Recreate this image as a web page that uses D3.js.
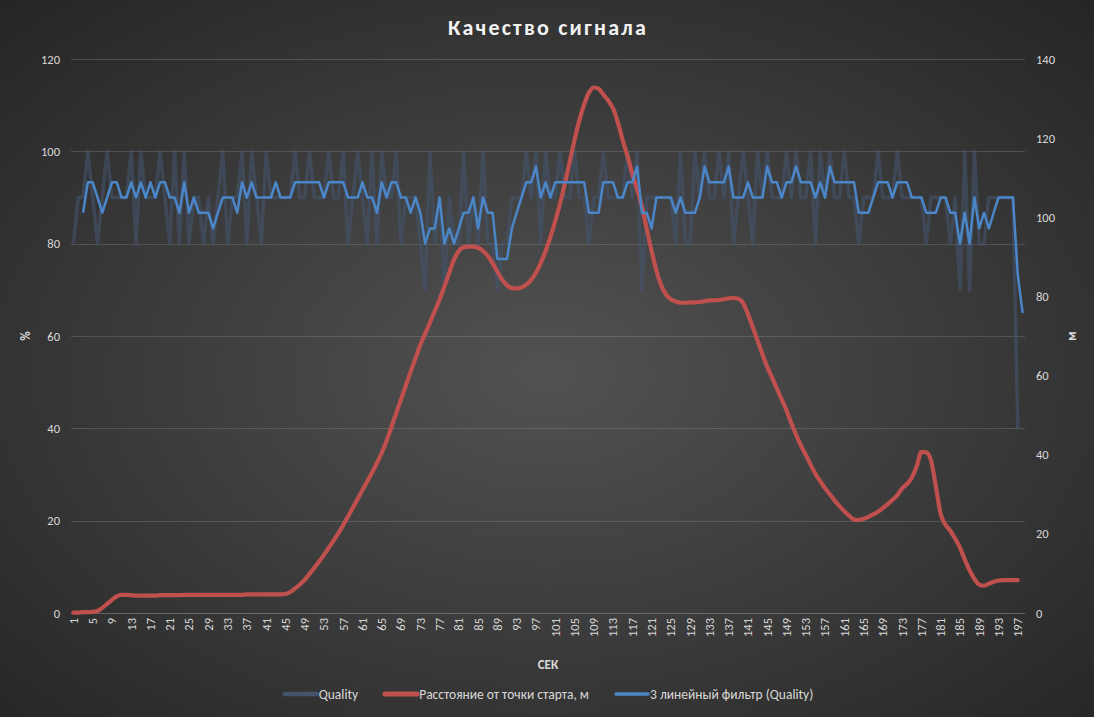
<!DOCTYPE html>
<html><head><meta charset="utf-8">
<script src="https://cdn.jsdelivr.net/npm/d3@7"></script>
<style>
body{margin:0;background:#2a2a2a;}
svg{display:block;}
text{font-family:Carlito, Lato, 'Noto Sans', sans-serif;}
</style>
</head><body>
<svg id="chart" width="1094" height="717"></svg>
<script>
// ---------------- data ----------------
const categories = d3.range(1, 199); // seconds 1..198
const xTickLabels = [1,5,9,13,17,21,25,29,33,37,41,45,49,53,57,61,65,69,73,77,81,85,89,93,97,101,105,109,113,117,121,125,129,133,137,141,145,149,153,157,161,165,169,173,177,181,185,189,193,197];
const leftTicks = [0,20,40,60,80,100,120];
const rightTicks = [0,20,40,60,80,100,120,140];
const seriesNames = ["Quality", "Расстояние от точки старта, м", "3 линейный фильтр (Quality)"];
const chartTitle = "Качество сигнала";
const xTitle = "СЕК";
const leftTitle = "%";
const rightTitle = "м";

const quality = [
 80,90,90,100,90,80,90,100,90,90,
 90,90,100,80,100,90,90,90,100,90,
 80,100,80,100,80,90,90,80,90,80,
 90,100,80,90,90,100,80,100,90,80,
 100,90,90,90,90,90,100,90,90,100,
 90,90,90,100,90,90,100,80,90,100,
 90,80,100,80,100,90,90,100,80,90,
 90,90,80,70,100,80,90,70,90,80,
 80,100,80,90,80,100,80,80,70,80,
 80,90,90,90,100,90,100,80,100,90,
 90,100,90,90,100,90,90,80,90,90,
 100,90,90,90,90,100,90,100,70,90,
 90,90,90,90,90,80,100,80,80,100,
 90,100,90,90,100,90,100,80,90,100,
 90,80,100,90,100,90,90,90,100,90,
 100,90,90,100,80,100,90,100,90,90,
 100,90,90,80,90,90,90,100,90,90,
 90,100,90,90,90,90,90,80,90,90,
 90,90,80,90,70,100,70,100,80,80,
 90,90,90,90,90,90,40
];

const distance = [
 0.1,0.1,0.2,0.2,0.3,0.5,1.3,2.3,3.3,4.2,
 4.6,4.6,4.5,4.4,4.4,4.4,4.4,4.4,4.5,4.5,
 4.5,4.5,4.5,4.6,4.6,4.6,4.6,4.6,4.6,4.6,
 4.6,4.6,4.6,4.6,4.6,4.6,4.7,4.7,4.7,4.7,
 4.7,4.7,4.7,4.7,4.8,5.3,6.2,7.2,8.4,9.9,
 11.4,13.0,14.7,16.5,18.3,20.2,22.2,24.4,26.6,28.8,
 31.1,33.3,35.5,37.9,40.5,43.5,47.0,50.5,54.0,57.5,
 61.0,64.4,67.7,70.6,73.4,76.3,79.2,82.5,86.0,89.3,
 91.5,92.4,92.6,92.6,92.3,91.5,90.2,88.4,86.2,84.2,
 82.8,82.1,82.0,82.3,83.0,84.2,86.0,88.5,91.5,95.0,
 99.0,103.5,108.5,114.0,119.5,124.5,128.5,131.5,132.8,132.5,
 131.0,129.5,127.5,124.0,119.5,115.5,111.0,107.0,102.7,97.0,
 91.5,86.5,82.8,80.5,79.3,78.7,78.4,78.4,78.5,78.5,
 78.6,78.8,79.0,79.0,79.1,79.3,79.5,79.6,79.4,78.3,
 75.5,72.2,68.8,65.4,62.2,59.5,56.7,54.0,51.2,48.0,
 45.0,42.3,40.0,37.5,35.2,33.3,31.5,30.0,28.4,27.0,
 25.7,24.6,23.6,23.5,23.8,24.3,24.9,25.6,26.5,27.5,
 28.6,29.8,31.5,32.6,34.2,37.0,40.7,40.6,38.5,32.0,
 25.0,22.3,20.8,18.8,16.5,13.5,10.8,8.6,7.2,6.9,
 7.4,7.9,8.2,8.3,8.3,8.3,8.3
];

const filter3 = [
 null,null,86.7,93.3,93.3,90,86.7,90,93.3,93.3,
 90,90,93.3,90,93.3,90,93.3,90,93.3,93.3,
 90,90,86.7,93.3,86.7,90,86.7,86.7,86.7,83.3,
 86.7,90,90,90,86.7,93.3,90,93.3,90,90,
 90,90,93.3,90,90,90,93.3,93.3,93.3,93.3,
 93.3,93.3,90,93.3,93.3,93.3,93.3,90,90,90,
 93.3,90,90,86.7,93.3,90,93.3,93.3,90,90,
 86.7,90,86.7,80,83.3,83.3,90,80,83.3,80,
 83.3,86.7,86.7,90,83.3,90,86.7,86.7,76.7,76.7,
 76.7,83.3,86.7,90,93.3,93.3,96.7,90,93.3,90,
 93.3,93.3,93.3,93.3,93.3,93.3,93.3,86.7,86.7,86.7,
 93.3,93.3,93.3,90,90,93.3,93.3,96.7,86.7,86.7,
 83.3,90,90,90,90,86.7,90,86.7,86.7,86.7,
 90,96.7,93.3,93.3,93.3,93.3,96.7,90,90,90,
 93.3,90,90,90,96.7,93.3,93.3,90,93.3,93.3,
 96.7,93.3,93.3,93.3,90,93.3,90,96.7,93.3,93.3,
 93.3,93.3,93.3,86.7,86.7,86.7,90,93.3,93.3,93.3,
 90,93.3,93.3,93.3,90,90,90,86.7,86.7,86.7,
 90,90,86.7,86.7,80,86.7,80,90,83.3,86.7,
 83.3,86.7,90,90,90,90,73.3,65
];

const colors = { quality: "#44546A", distance: "#C0504D", filter: "#4A86C8" };

// ---------------- layout ----------------
const W = 1094, H = 717;
const plot = { left: 71, right: 1025, top: 59, bottom: 613 };
const svg = d3.select("#chart");

const defs = svg.append("defs");
const grad = defs.append("radialGradient").attr("id", "bg")
  .attr("cx", "50%").attr("cy", "52%").attr("r", "72%");
grad.append("stop").attr("offset", "0%").attr("stop-color", "#525252");
grad.append("stop").attr("offset", "100%").attr("stop-color", "#252525");
svg.append("rect").attr("width", W).attr("height", H).attr("fill", "url(#bg)");

const x = d3.scaleBand().domain(categories).range([plot.left, plot.right]).padding(0);
const xc = c => x(c) + x.bandwidth() / 2;
const yL = d3.scaleLinear().domain([0, 120]).range([plot.bottom, plot.top]);
const yR = d3.scaleLinear().domain([0, 140]).range([plot.bottom, plot.top]);

// gridlines
svg.append("g").selectAll("line").data(leftTicks).join("line")
  .attr("x1", plot.left).attr("x2", plot.right)
  .attr("y1", d => Math.round(yL(d)) + 0.5).attr("y2", d => Math.round(yL(d)) + 0.5)
  .attr("stroke", "#d9d9d9").attr("stroke-opacity", d => d === 0 ? 0.3 : 0.18).attr("stroke-width", 1);

const tickColor = "#d9d9d9";
const gL = svg.append("g").attr("transform", `translate(${plot.left},0)`)
  .call(d3.axisLeft(yL).tickValues(leftTicks).tickSize(0).tickPadding(11));
const gR = svg.append("g").attr("transform", `translate(${plot.right},0)`)
  .call(d3.axisRight(yR).tickValues(rightTicks).tickSize(0).tickPadding(11));
const gB = svg.append("g").attr("transform", `translate(0,${plot.bottom})`)
  .call(d3.axisBottom(x).tickValues(xTickLabels).tickSize(0));
gB.selectAll("text").attr("transform", "rotate(-90)").attr("text-anchor", "end")
  .attr("x", -5).attr("y", 0).attr("dy", "0.35em");
[gL, gR, gB].forEach(g => {
  g.select(".domain").remove();
  g.selectAll("text").attr("fill", tickColor).attr("font-size", 12.5)
    .style("font-family", "Carlito, Lato, 'Noto Sans', sans-serif");
});

// lines
const lineQ = d3.line().defined(d => d != null).x((d, i) => xc(categories[i])).y(d => yL(d));
const lineD = d3.line().defined(d => d != null).x((d, i) => xc(categories[i])).y(d => yR(d)).curve(d3.curveMonotoneX);

svg.append("path").datum(quality).attr("d", lineQ).attr("fill", "none")
  .attr("stroke", colors.quality).attr("stroke-width", 3.5).attr("stroke-linejoin", "round").attr("stroke-opacity", 0.6);
svg.append("path").datum(distance).attr("d", lineD).attr("fill", "none")
  .attr("stroke", colors.distance).attr("stroke-width", 4.2).attr("stroke-linejoin", "round").attr("stroke-linecap", "round");
svg.append("path").datum(filter3).attr("d", lineQ).attr("fill", "none")
  .attr("stroke", colors.filter).attr("stroke-width", 2.5).attr("stroke-linejoin", "round");

// titles
svg.append("text").attr("x", 548).attr("y", 35).attr("text-anchor", "middle")
  .attr("fill", "#f2f2f2").attr("font-size", 22).attr("font-weight", "bold")
  .attr("letter-spacing", 2.2).text(chartTitle);
svg.append("text").attr("x", 548).attr("y", 669).attr("text-anchor", "middle")
  .attr("fill", tickColor).attr("font-size", 13).attr("font-weight", "bold").text(xTitle);
svg.append("text").attr("transform", `translate(30,${(plot.top + plot.bottom) / 2}) rotate(-90)`)
  .attr("text-anchor", "middle").attr("fill", tickColor).attr("font-size", 13).attr("font-weight", "bold").text(leftTitle);
svg.append("text").attr("transform", `translate(1076,${(plot.top + plot.bottom) / 2}) rotate(-90)`)
  .attr("text-anchor", "middle").attr("fill", tickColor).attr("font-size", 13).attr("font-weight", "bold").text(rightTitle);

// legend
const legendColors = [colors.quality, colors.distance, colors.filter];
const legendWidths = [3.5, 4.2, 2.5];
const lg = svg.append("g");
let cursor = 0;
seriesNames.forEach((name, i) => {
  const g = lg.append("g");
  g.append("line").attr("x1", 0).attr("x2", 32).attr("y1", 0).attr("y2", 0)
    .attr("stroke", legendColors[i]).attr("stroke-width", legendWidths[i] + 1).attr("stroke-linecap", "round");
  const t = g.append("text").attr("x", 34).attr("y", 0).attr("dy", "0.35em")
    .attr("fill", tickColor).attr("font-size", 13.5).text(name);
  const w = 34 + t.node().getComputedTextLength();
  g.attr("transform", `translate(${cursor},0)`);
  cursor += w + 27;
});
const total = cursor - 27;
lg.attr("transform", `translate(${549 - total / 2},694)`);
</script>
</body></html>
